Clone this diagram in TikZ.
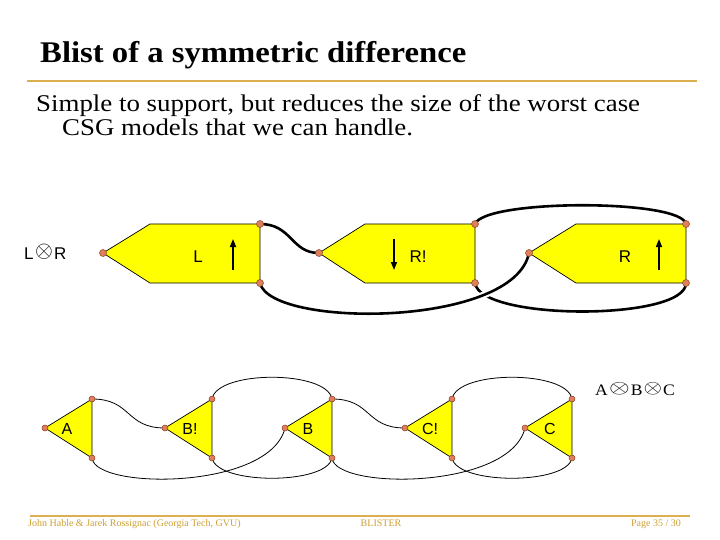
\documentclass[tikz,border=0pt]{standalone}
\usepackage{fontspec}
\usepackage{graphicx}
\setmainfont{Liberation Serif}
\newfontfamily\arialfont{Liberation Sans}
\usetikzlibrary{arrows.meta}
\definecolor{slidegold}{RGB}{220, 176, 80}
\definecolor{footgold}{RGB}{206, 160, 50}
\definecolor{blistyellow}{RGB}{255, 255, 0}
\definecolor{portfill}{RGB}{222, 128, 90}
\definecolor{portline}{RGB}{140, 62, 40}
\newcommand{\symdiff}[2]{\raisebox{0.11em}{\scalebox{#1}[#2]{$\otimes$}}}
\tikzset{
    piece/.style={draw=black, line width=0.7pt, fill=blistyellow, line join=miter},
    port/.style={circle, fill=portfill, draw=portline, line width=0.5pt, inner sep=0pt, minimum size=7pt},
    smallport/.style={port, minimum size=6pt},
    loopwire/.style={line width=2.6pt, black},
    overwire/.style={loopwire, preaction={draw=white, line width=7pt}},
    thinwire/.style={line width=0.8pt, black},
    dirarr/.style={-{Triangle[length=8pt, width=6pt]}, line width=1.6pt},
    lbl/.style={font=\arialfont\fontsize{17}{19}\selectfont, inner sep=0pt},
    smalllbl/.style={lbl, font=\arialfont\fontsize{16}{18}\selectfont},
    goldrule/.style={slidegold, line width=2pt},
    foot/.style={footgold, font=\fontsize{10}{12}\selectfont, inner sep=0pt}
}

\begin{document}
\begin{tikzpicture}[x=1pt, y=-1pt]
    \fill[white] (0,0) rectangle (720,540);
    \useasboundingbox (0,0) rectangle (720,540);

    \node[anchor=base west, inner sep=0, font=\bfseries\fontsize{30}{32}\selectfont] (title) at (40,63) {\scalebox{1.09}[1]{Blist of a symmetric difference}};
    \draw[goldrule] (27,81) -- (697,81);
    \node[anchor=base west, inner sep=0, font=\fontsize{24}{28}\selectfont] (intro1) at (36,112) {\scalebox{1.12}[1]{Simple to support, but reduces the size of the worst case}};
    \node[anchor=base west, inner sep=0, font=\fontsize{24}{28}\selectfont] (intro2) at (62,136) {\scalebox{1.12}[1]{CSG models that we can handle.}};

    \node[lbl, anchor=base west] (lxr) at (24,259) {L\kern1.5pt\symdiff{1.33}{1.33}\kern1pt R};

    \filldraw[piece] (103,253) coordinate (ltip) -- (150,224) -- (260,224) coordinate (ltop) -- (260,283) coordinate (lbot) -- (150,283) -- cycle;
    \filldraw[piece] (319,253) coordinate (rntip) -- (365,224) -- (475,224) coordinate (rntop) -- (475,283) coordinate (rnbot) -- (365,283) -- cycle;
    \filldraw[piece] (529,253) coordinate (rtip) -- (576,224) -- (686,224) coordinate (rtop) -- (686,283) coordinate (rbot) -- (576,283) -- cycle;

    \node[lbl] (lname) at (198,257) {L};
    \node[lbl] (rnname) at (418,257) {R!};
    \node[lbl] (rname) at (625,257) {R};
    \coordinate (lup0) at (233,270);   \coordinate (lup1) at (233,239);
    \coordinate (rndn0) at (394,239);  \coordinate (rndn1) at (394,270);
    \coordinate (rup0) at (659,270);   \coordinate (rup1) at (659,239);
    \draw[dirarr] (lup0) -- (lup1);
    \draw[dirarr] (rndn0) -- (rndn1);
    \draw[dirarr] (rup0) -- (rup1);

    \draw[loopwire] (ltop) .. controls +(32,0) and +(-28,0) .. (rntip);
    \draw[loopwire] (rntop) .. controls +(10,-25) and +(-5,-25) .. (rtop);
    \draw[loopwire] (rnbot) .. controls +(5,38) and +(0,38) .. (rbot);
    \draw[overwire] (lbot) .. controls +(10,45) and +(-15,75) .. (rtip);

    \foreach \p in {ltip, ltop, lbot, rntip, rntop, rnbot, rtip, rtop, rbot}
        \node[port] (\p-dot) at (\p) {};

    \node[anchor=base west, inner sep=0, font=\fontsize{16}{18}\selectfont] (abc) at (595,395.5) {\scalebox{1.1}[1]{A\kern1pt\symdiff{1.4}{1.1}\kern1pt B\kern1pt\symdiff{1.25}{1.1}\kern1pt C}};

    \filldraw[piece] (45,428) coordinate (atip) -- (92,399) coordinate (atop) -- (92,458) coordinate (abot) -- cycle;
    \filldraw[piece] (165,428) coordinate (bntip) -- (212,399) coordinate (bntop) -- (212,458) coordinate (bnbot) -- cycle;
    \filldraw[piece] (285,428) coordinate (btip) -- (332,399) coordinate (btop) -- (332,458) coordinate (bbot) -- cycle;
    \filldraw[piece] (405,428) coordinate (cntip) -- (452,399) coordinate (cntop) -- (452,458) coordinate (cnbot) -- cycle;
    \filldraw[piece] (525,428) coordinate (ctip) -- (572,399) coordinate (ctop) -- (572,458) coordinate (cbot) -- cycle;

    \node[smalllbl] (aname) at (67,429) {A};
    \node[smalllbl] (bnname) at (190,429) {B!};
    \node[smalllbl] (bname) at (308,429) {B};
    \node[smalllbl] (cnname) at (430,429) {C!};
    \node[smalllbl] (cname) at (550,429) {C};

    \draw[thinwire] (atop) .. controls +(40,0) and +(-40,0) .. (bntip);
    \draw[thinwire] (abot) .. controls +(3,32) and +(-15,62) .. (btip);
    \draw[thinwire] (bntop) .. controls +(5,-29) and +(-5,-29) .. (btop);
    \draw[thinwire] (bnbot) .. controls +(5,27) and +(-5,27) .. (bbot);
    \draw[thinwire] (btop) .. controls +(40,0) and +(-40,0) .. (cntip);
    \draw[thinwire] (bbot) .. controls +(3,32) and +(-15,62) .. (ctip);
    \draw[thinwire] (cntop) .. controls +(5,-29) and +(-5,-29) .. (ctop);
    \draw[thinwire] (cnbot) .. controls +(5,27) and +(-5,27) .. (cbot);

    \foreach \p in {atip, atop, abot, bntip, bntop, bnbot, btip, btop, bbot, cntip, cntop, cnbot, ctip, ctop, cbot}
        \node[smallport] (\p-dot) at (\p) {};

    \draw[goldrule] (30,516) -- (690,516);
    \node[foot, anchor=base west] (authors) at (28,526) {John Hable \& Jarek Rossignac (Georgia Tech, GVU)};
    \node[foot, anchor=base] (talk) at (381,526) {BLISTER};
    \node[foot, anchor=base east] (page) at (681,526) {Page 35 / 30};
\end{tikzpicture}
\end{document}
